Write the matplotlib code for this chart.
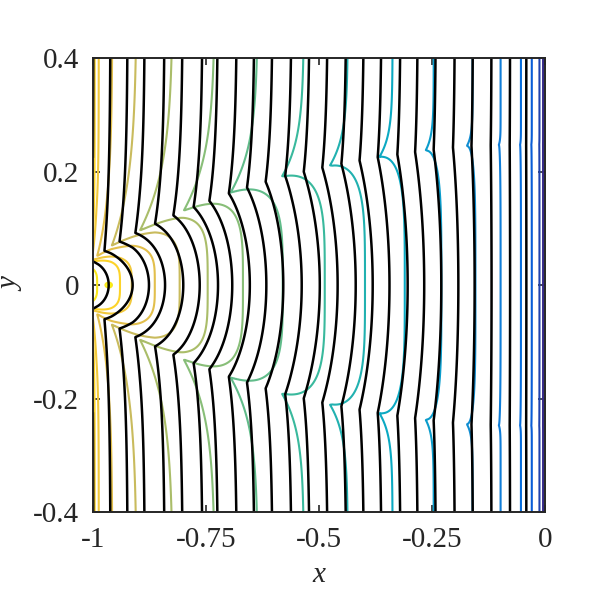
import numpy as np
import matplotlib
matplotlib.use("Agg")
import matplotlib.pyplot as plt
from matplotlib.colors import LinearSegmentedColormap

# parula-like colour map (MATLAB default)
parula_hex = ["#352a87", "#0363e1", "#1485d4", "#06a7c6", "#38b99e",
              "#92bf73", "#d9ba56", "#fcce2e", "#f9fb0e"]
parula = LinearSegmentedColormap.from_list("parula", parula_hex)

# coloured contours: x where each one meets the top edge (y = 0.4)
color_top = [-0.004, -0.012, -0.029, -0.053, -0.098, -0.160, -0.246, -0.337,
             -0.436, -0.533, -0.635, -0.730, -0.823, -0.903, -0.957, -0.987, -0.996]
color_inner = [1.012, 1.022]          # small closed loops round the source

# black contours: x where each one meets the top edge
black_top = [-0.999, -0.961, -0.923, -0.885, -0.841, -0.801, -0.757, -0.723,
             -0.681, -0.642, -0.602, -0.560, -0.520, -0.480, -0.439, -0.400,
             -0.361, -0.319, -0.281, -0.241, -0.199, -0.159, -0.118, -0.077,
             -0.041]

# line of cusps (upper half, mirrored below) and how far lines lean left there
cusp_x = [-1.0, -0.992, -0.959, -0.896, -0.799, -0.691, -0.582, -0.476,
          -0.365, -0.265, -0.175, -0.104, -0.058, 0.0]
cusp_y = [0.045, 0.050, 0.069, 0.096, 0.131, 0.164, 0.191, 0.210,
          0.226, 0.237, 0.245, 0.247, 0.247, 0.248]
lean = [0.020, 0.033, 0.055, 0.073, 0.069, 0.060, 0.049, 0.040,
        0.029, 0.018, 0.013, 0.004, 0.002, 0.0]

# rightward bulge of the coloured lines on y = 0
bulge_x = [-1.0, -0.94, -0.914, -0.863, -0.808, -0.746, -0.668, -0.58,
           -0.487, -0.398, -0.31, -0.229, -0.159, -0.1, 0.0]
bulge = [0.015, 0.056, 0.073, 0.094, 0.095, 0.077, 0.062, 0.055,
         0.046, 0.038, 0.027, 0.017, 0.007, 0.0, 0.0]

# rightward bulge of the black lines on y = 0
bbulge_x = [-1.0, -0.965, -0.912, -0.874, -0.83, -0.75, -0.65, -0.56,
            -0.48, -0.40, -0.32, -0.24, -0.16, -0.12, 0.0]
bbulge = [0.030, 0.034, 0.049, 0.047, 0.044, 0.036, 0.028, 0.022,
          0.022, 0.020, 0.016, 0.013, 0.004, 0.0, 0.0]

source = (-0.965, 0.0)

x = np.linspace(-1, 0, 1001)
y = np.linspace(-0.4, 0.4, 801)
X, Y = np.meshgrid(x, y)
ay = np.abs(Y)

yc = np.interp(X, cusp_x, cusp_y)
L = np.interp(X, cusp_x, lean)
t = ay / yc
d_out = np.clip(ay - yc, 0, None)

# coloured field: plane -x, bent left near the cusp line, bulged inside it
D = np.interp(X, bulge_x, bulge)
sig = 1.2 * L + 0.005
h_out = -L * np.exp(-d_out / sig)
h_in = np.where(t < 1, D - (D + L) * (1 - np.sqrt(np.clip(1 - t**4, 0, None))), -np.inf)
V = -X + np.maximum(h_in, h_out)
r = np.hypot(X - source[0], Y / 0.6)
V = np.maximum(V, 1.03 - 2.5 * r)

# black field: same idea, gentler, with a soft kink on the cusp line
Db = np.interp(X, bbulge_x, bbulge)
Lb = 0.3 * L
hb_out = -Lb * np.exp(-d_out / 0.1)
hb_in = -Lb + (Db + Lb) * (1 - np.clip(t, 0, 1)**2)
W = -X + np.where(t < 1, hb_in, hb_out)

c_levels = sorted([-v for v in color_top] + color_inner)
c_colors = [parula(i / (len(c_levels) - 1)) for i in range(len(c_levels))]
b_levels = sorted([-v for v in black_top])

plt.rcParams['font.family'] = ['Liberation Serif', 'DejaVu Serif']
fig = plt.figure(figsize=(6.15, 6.15), dpi=100)
ax = fig.add_axes([0.151, 0.1675, 0.735, 0.738])

ax.contour(X, Y, V, levels=c_levels, colors=c_colors, linewidths=1.5)
ax.contour(X, Y, W, levels=b_levels, colors='k', linewidths=1.8)

ax.set_xlim(-1, 0)
ax.set_ylim(-0.4, 0.4)
ax.set_xticks([-1, -0.75, -0.5, -0.25, 0])
ax.set_xticklabels(['-1', '-0.75', '-0.5', '-0.25', '0'])
ax.set_yticks([-0.4, -0.2, 0, 0.2, 0.4])
ax.set_yticklabels(['-0.4', '-0.2', '0', '0.2', '0.4'])
ax.tick_params(direction='in', length=5, width=1.2, top=True, right=True,
               labelsize=21, colors='#262626')
ax.tick_params(axis='x', pad=11)
ax.tick_params(axis='y', pad=10)
for s in ax.spines.values():
    s.set_linewidth(1.4)
    s.set_color('#262626')
ax.set_xlabel('x', fontsize=21, style='italic', color='#262626', labelpad=6)
ax.set_ylabel('y', fontsize=21, style='italic', color='#262626', labelpad=6)

fig.savefig('out.png', dpi=100)
